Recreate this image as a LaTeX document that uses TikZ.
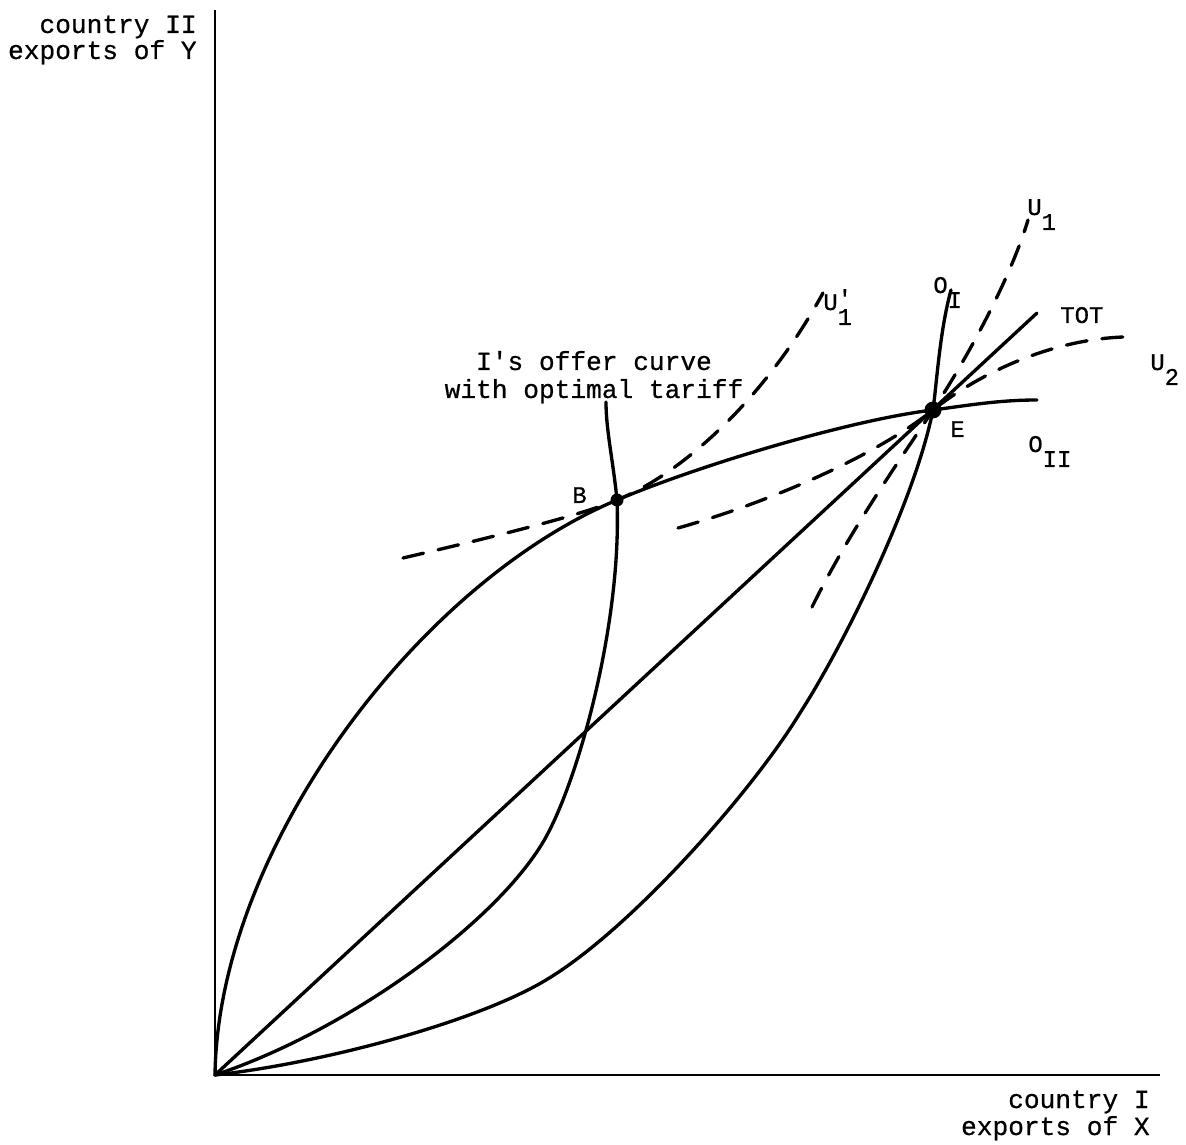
\documentclass[tikz,border=0pt]{standalone}
\usepackage{fontspec}
\newfontfamily\typewr[FakeBold=0.6]{Liberation Mono}
\usetikzlibrary{positioning}
\tikzset{
  axis/.style={line width=1.5pt},
  offer/.style={line width=1.9pt,line join=round,line cap=round},
  indiff/.style={offer,dash pattern=on 4.2mm off 3mm},
  axlab/.style={font=\typewr\fontsize{14.9}{18}\selectfont,inner sep=0pt},
  lab/.style={font=\typewr\fontsize{13.6}{16}\selectfont,inner sep=0pt,anchor=base west},
}
\newcommand\lowr[1]{\raisebox{-8.5pt}{#1}}

\begin{document}
\begin{tikzpicture}[x=0.2mm,y=-0.2mm]
  \useasboundingbox (0,0) rectangle (1186,1145);
  \coordinate (O) at (215,1075);
  \coordinate (B) at (617,500);
  \coordinate (E) at (933,410);
  \coordinate (ytip) at (215,10);
  \coordinate (xtip) at (1160,1075);
  \coordinate (tot) at (1037,313);
  % axes
  \draw[axis] (ytip) -- (O) -- (xtip);
  \node[axlab,anchor=base east] (ylab1) at (197,33) {country II};
  \node[axlab,anchor=base east] (ylab2) at (197,59) {exports of Y};
  \node[axlab,anchor=base east] (xlab1) at (1150,1108) {country I};
  \node[axlab,anchor=base east] (xlab2) at (1150,1135) {exports of X};
  % terms of trade
  \draw[offer] (O) -- (tot);
  % offer curves: II, I with tariff, I
  \draw[offer] (O) .. controls (218,850) and (417,584) .. (B)
    .. controls (700,465) and (850,420) .. (E)
    .. controls (970,405) and (1000,400) .. (1037,400);
  \draw[offer] (O) .. controls (350,1030) and (500,920) .. (546,837)
    .. controls (580,775) and (622,620) .. (B)
    .. controls (613,460) and (606,430) .. (606,402);
  \draw[offer] (O) .. controls (330,1062) and (480,1020) .. (546,980)
    .. controls (630,930) and (752,792) .. (800,713)
    .. controls (845,643) and (915,500) .. (E)
    .. controls (937,380) and (940,330) .. (951,290);
  % indifference curves
  \draw[indiff] (403,558) .. controls (480,540) and (580,516) .. (B)
    .. controls (690,470) and (770,390) .. (823,293);
  \draw[indiff] (678,528) .. controls (760,505) and (870,460) .. (E)
    .. controls (980,373) and (1050,340) .. (1123,337);
  \draw[indiff] (812,607) .. controls (850,530) and (900,460) .. (E)
    .. controls (966,360) and (1010,280) .. (1028,220);
  % equilibria
  \fill (B) circle (1.3mm);
  \fill (E) circle (1.7mm);
  % labels
  \node[lab] (Blab) at (572,503) {B};
  \node[lab] (Elab) at (950,437) {E};
  \node[lab] (totlab) at (1060,323) {TOT};
  \node[lab] (oI) at (933,293) {O\lowr{I}};
  \node[lab] (oII) at (1028,452) {O\lowr{II}};
  \node[lab] (u1) at (1027,215) {U\lowr{1}};
  \node[lab] (u1p) at (823,310) {U\rlap{\raisebox{2pt}{'}}\lowr{1}};
  \node[lab] (u2) at (1150,370) {U\lowr{2}};
  \node[axlab,anchor=base] (tar1) at (594,370) {I's offer curve};
  \node[axlab,anchor=base] (tar2) at (594,398) {with optimal tariff};
\end{tikzpicture}
\end{document}
